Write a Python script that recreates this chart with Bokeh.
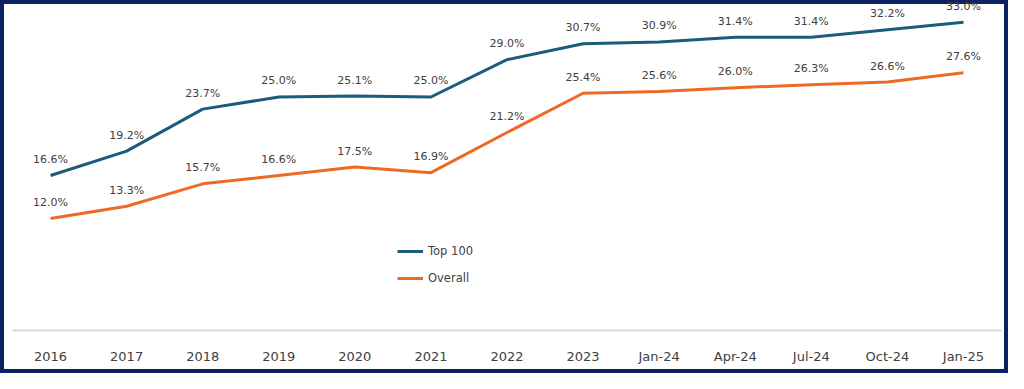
from bokeh.plotting import figure
from bokeh.models import Range1d, FactorRange, ColumnDataSource, Legend, LegendItem
from bokeh.core.properties import value
from bokeh.embed import file_html
from bokeh.resources import INLINE

categories = ["2016", "2017", "2018", "2019", "2020", "2021", "2022", "2023",
              "Jan-24", "Apr-24", "Jul-24", "Oct-24", "Jan-25"]
top100 = [16.6, 19.2, 23.7, 25.0, 25.1, 25.0, 29.0, 30.7, 30.9, 31.4, 31.4, 32.2, 33.0]
overall = [12.0, 13.3, 15.7, 16.6, 17.5, 16.9, 21.2, 25.4, 25.6, 26.0, 26.3, 26.6, 27.6]
series_names = ["Top 100", "Overall"]

TOP_COLOR = "#1b5b7b"
OVR_COLOR = "#ee6a24"
TEXT_COLOR = "#404040"
FONT = "DejaVu Sans"

p = figure(width=1008, height=373, output_backend="svg", toolbar_location=None,
           x_range=FactorRange(factors=categories, range_padding=0),
           y_range=Range1d(0, 35.33),
           min_border_left=12, min_border_right=7, min_border_top=0, min_border_bottom=43)
p.styles = {"background-color": "white", "box-shadow": "inset 0 0 0 4px #0d2262"}
p.background_fill_alpha = 0
p.border_fill_alpha = 0
p.outline_line_color = None
p.xgrid.visible = False
p.ygrid.visible = False
p.yaxis.visible = False

ax = p.xaxis[0]
ax.axis_line_color = "#d9d9d9"
ax.axis_line_width = 2
ax.major_tick_line_color = None
ax.minor_tick_line_color = None
ax.major_label_text_font = FONT
ax.major_label_text_font_size = "13px"
ax.major_label_text_color = TEXT_COLOR
ax.major_label_standoff = 12

src = ColumnDataSource(dict(x=categories, top=top100, ovr=overall,
                            top_lbl=[f"{v:.1f}%" for v in top100],
                            ovr_lbl=[f"{v:.1f}%" for v in overall]))

r_top = p.line("x", "top", source=src, line_color=TOP_COLOR, line_width=3)
r_ovr = p.line("x", "ovr", source=src, line_color=OVR_COLOR, line_width=3)

for col, lbl in (("top", "top_lbl"), ("ovr", "ovr_lbl")):
    p.text("x", col, text=lbl, source=src, y_offset=-16, text_align="center",
           text_baseline="middle", text_font=value(FONT), text_font_size="11px",
           text_color=TEXT_COLOR)

legend = Legend(items=[LegendItem(label=series_names[0], renderers=[r_top]),
                       LegendItem(label=series_names[1], renderers=[r_ovr])],
                location=(385, 42), orientation="vertical",
                background_fill_alpha=0, border_line_color=None,
                padding=0, margin=0, spacing=7, glyph_width=26, glyph_height=20,
                label_standoff=5, label_text_font=FONT, label_text_font_size="11.5px",
                label_text_color=TEXT_COLOR)
p.add_layout(legend, "center")

open("out.html", "w").write(file_html(p, INLINE))
